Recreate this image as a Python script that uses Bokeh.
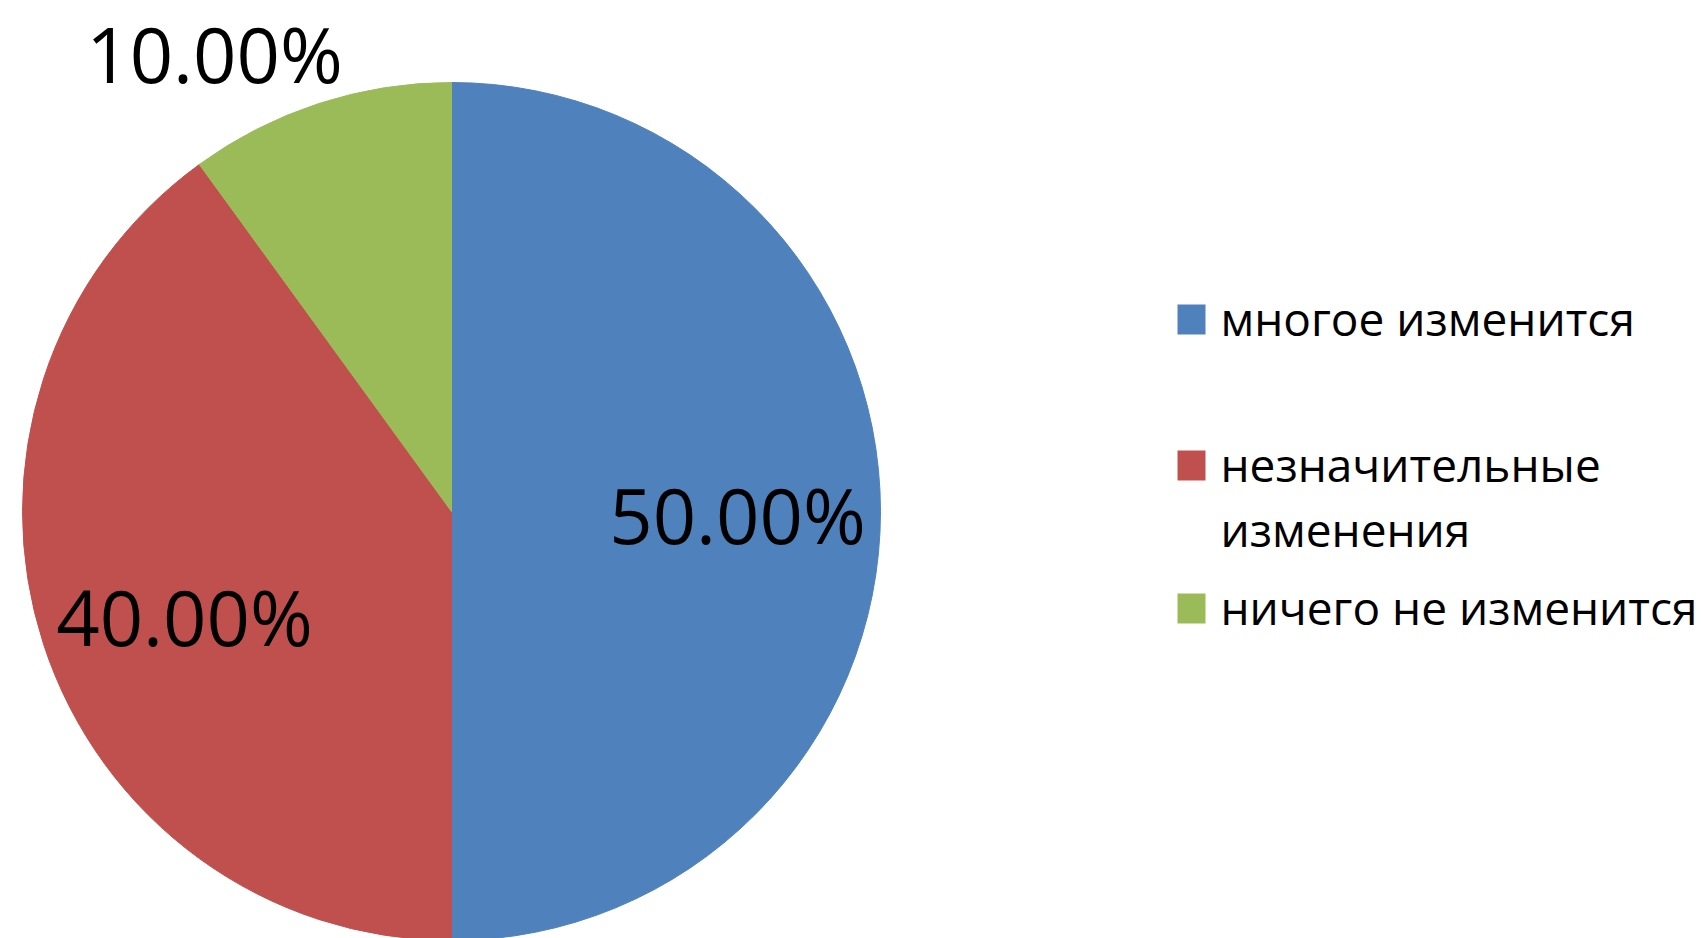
import math
from bokeh.plotting import figure
from bokeh.models import Range1d, ColumnDataSource
from bokeh.core.properties import value
from bokeh.embed import file_html
from bokeh.resources import INLINE

# ---- data ----
categories = ["многое изменится", "незначительные\nизменения", "ничего не изменится"]
shares = [50.0, 40.0, 10.0]
colors = ["#4F81BD", "#C0504D", "#9BBB59"]

# ---- layout (screen px, y measured from top) ----
W, H = 1701, 938
cx, cy, R = 451, 511, 429
label_pos = [(737, 543), (184, 645), (214, 82)]   # centre x, baseline y
legend_sq_x, legend_sq_w, legend_sq_h = 1191, 28, 30
legend_text_x = 1220
legend_baselines = [335, 481, 624]
legend_line_h = 65
num_fs = 76
leg_fs = 46
BASE_SHIFT = 0.38   # renderer baseline correction (fraction of font size)
FONT = "Open Sans"

def Y(y):
    return H - y

p = figure(width=W, height=H, output_backend="svg", toolbar_location=None,
           x_range=Range1d(0, W), y_range=Range1d(0, H), min_border=0)
p.axis.visible = False
p.grid.visible = False
p.outline_line_color = None
p.background_fill_color = "white"
p.border_fill_color = "white"

total = sum(shares)
starts, ends = [], []
cum = 0.0
for s in shares:
    starts.append(math.pi / 2 - 2 * math.pi * cum / total)
    cum += s
    ends.append(math.pi / 2 - 2 * math.pi * cum / total)

src = ColumnDataSource(dict(x=[cx] * 3, y=[Y(cy)] * 3, start=starts, end=ends,
                            color=colors))
p.wedge(x="x", y="y", radius=R, start_angle="start", end_angle="end",
        direction="clock", fill_color="color", line_color="color", source=src)

# data labels
labels = ["%.2f%%" % s for s in shares]
p.text(x=[lp[0] for lp in label_pos],
       y=[Y(lp[1] - BASE_SHIFT * num_fs) for lp in label_pos], text=labels,
       text_font=value(FONT), text_font_size="%dpx" % num_fs, text_color="black",
       text_align="center", text_baseline="alphabetic")

# legend
for cat, col, base in zip(categories, colors, legend_baselines):
    p.rect(x=legend_sq_x, y=Y(base - 16), width=legend_sq_w, height=legend_sq_h,
           fill_color=col, line_color=None)
    for i, line in enumerate(cat.split("\n")):
        p.text(x=[legend_text_x], y=[Y(base + i * legend_line_h - BASE_SHIFT * leg_fs)],
               text=[line], text_font=value(FONT), text_font_size="%dpx" % leg_fs,
               text_color="black", text_align="left", text_baseline="alphabetic")

open("out.html", "w").write(file_html(p, INLINE))
